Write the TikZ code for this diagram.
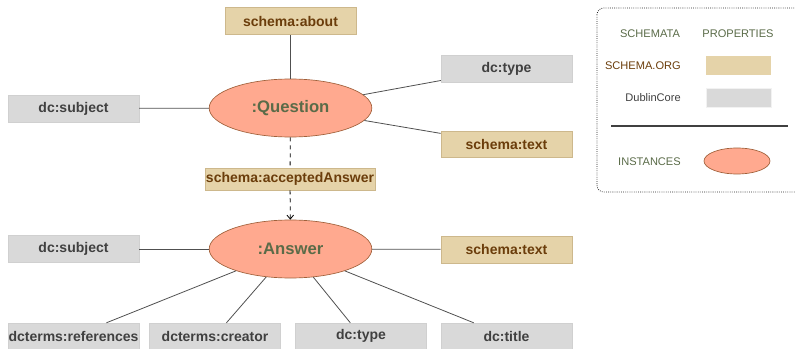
\documentclass[tikz,border=0pt]{standalone}
\usepackage{fontspec}
\setmainfont{Liberation Sans}
\usetikzlibrary{shapes.geometric,arrows.meta}
\definecolor{tanfill}{HTML}{E5D3A9}
\definecolor{tanline}{HTML}{CDB88C}
\definecolor{tantext}{HTML}{6B3D0B}
\definecolor{grayfill}{HTML}{D9D9D9}
\definecolor{grayline}{HTML}{D0D0D0}
\definecolor{graytext}{HTML}{404040}
\definecolor{salmon}{HTML}{FFA98F}
\definecolor{salmonline}{HTML}{A0603A}
\definecolor{olive}{HTML}{5A6B48}
\definecolor{conn}{HTML}{505050}
\tikzset{
  x=0.75pt, y=-0.75pt,
  prop/.style={rectangle, minimum width=98.25pt, minimum height=20pt, inner sep=0pt,
    font=\bfseries\fontsize{10.5}{12}\selectfont},
  sprop/.style={prop, fill=tanfill, draw=tanline, line width=0.5pt, text=tantext},
  dprop/.style={prop, fill=grayfill, draw=grayline, line width=0.3pt, text=graytext},
  inst/.style={ellipse, minimum width=122pt, minimum height=43.5pt, inner sep=0pt,
    fill=salmon, draw=salmonline, line width=0.5pt, text=olive,
    font=\bfseries\fontsize{12.5}{15}\selectfont},
  link/.style={draw=conn, line width=0.6pt},
  legtext/.style={font=\fontsize{8.3}{10}\selectfont, inner sep=0pt},
}
\begin{document}
\begin{tikzpicture}
\useasboundingbox (0,0) rectangle (795,349);
\clip (0,0) rectangle (795,349);
% main graph
\node[inst] (Q) at (290.5,108) {:Question};
\node[inst] (A) at (290.5,249) {:Answer};
\node[sprop] (about) at (290.5,21) {schema:about};
\node[dprop] (typeQ) at (506.5,68.5) {dc:type};
\node[dprop] (subjQ) at (73.5,108.5) {dc:subject};
\node[sprop] (textQ) at (506.5,144.5) {schema:text};
\node[sprop, minimum width=127.5pt, minimum height=16.5pt] (acc) at (290,179) {schema:acceptedAnswer};
\node[dprop] (subjA) at (73.5,249) {dc:subject};
\node[sprop] (textA) at (506.5,249.5) {schema:text};
\node[dprop, minimum height=19.5pt] (refs) at (73.5,336) {dcterms:references};
\node[dprop, minimum height=19.5pt] (creator) at (215,336) {dcterms:creator};
\node[dprop, minimum height=19.5pt] (typeA) at (361,336) {dc:type};
\node[dprop, minimum height=19.5pt] (title) at (506.5,336) {dc:title};
\path[link] (Q) -- (about);
\path[link] (Q) -- (typeQ);
\path[link] (Q) -- (subjQ);
\path[link] (Q) -- (textQ);
\path[link] (A) -- (subjA);
\path[link] (A) -- (textA);
\path[link] (A) -- (refs);
\path[link] (A) -- (creator);
\path[link] (A) -- (typeA);
\path[link] (A) -- (title);
\draw[black, line width=0.6pt, dashed] (Q) -- (acc);
\draw[black, line width=0.6pt, dashed, -{Straight Barb[length=3pt,width=5pt]}] (acc) -- (A);
% legend
\draw[black!85, line width=0.6pt, densely dotted, rounded corners=5pt] (597,8) rectangle (802,192);
\node[legtext, text=olive] (lschemata) at (650,34) {SCHEMATA};
\node[legtext, text=olive] (lprops) at (738,34) {PROPERTIES};
\node[legtext, text=tantext, anchor=east] (lso) at (681,66) {SCHEMA.ORG};
\node[legtext, text=graytext, anchor=east] (ldc) at (681,98) {DublinCore};
\node[legtext, text=olive, anchor=east] (linst) at (681,162) {INSTANCES};
\node[rectangle, fill=tanfill, minimum width=48.75pt, minimum height=14pt, inner sep=0pt] (lsobox) at (738.5,65.5) {};
\node[rectangle, fill=grayfill, draw=black!5, minimum width=48.75pt, minimum height=14pt, inner sep=0pt] (ldcbox) at (738.5,97.5) {};
\node[ellipse, fill=salmon, draw=salmonline, line width=0.5pt, minimum width=49.5pt, minimum height=19.5pt, inner sep=0pt] (linstell) at (737,161) {};
\coordinate (sepL) at (611,126);
\coordinate (sepR) at (788,126);
\draw[black!75, line width=0.9pt] (sepL) -- (sepR);
\end{tikzpicture}
\end{document}
